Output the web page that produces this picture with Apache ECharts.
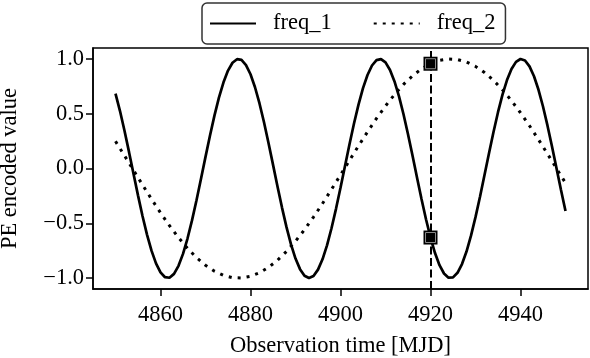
<!DOCTYPE html>
<html>
<head>
<meta charset="utf-8">
<script src="https://cdn.jsdelivr.net/npm/echarts@6/dist/echarts.min.js"></script>
<style>html,body{margin:0;padding:0;background:#fff}#c{width:590px;height:358px}</style>
</head>
<body>
<div id="c"></div>
<script>
// Observation times (MJD) for each series: start and step
const t1Start = 4850, t1Step = 1;
const t2Start = 4850, t2Step = 2;
// freq_1 values (solid line), one per MJD from 4850 to 4950
const freq1 = [
  0.6832, 0.5245, 0.3449, 0.1515, -0.0479, -0.2453, -0.4331, -0.6035, -0.7499, -0.8663,
  -0.9483, -0.9924, -0.9971, -0.9619, -0.8884, -0.7794, -0.6394, -0.4739, -0.2895, -0.0936,
  0.1061, 0.3015, 0.4850, 0.6490, 0.7872, 0.8940, 0.9653, 0.9979, 0.9909, 0.9444,
  0.8601, 0.7416, 0.5935, 0.4218, 0.2332, 0.0353, -0.1639, -0.3567, -0.5352, -0.6924,
  -0.8220, -0.9188, -0.9789, -1.0000, -0.9813, -0.9234, -0.8288, -0.7011, -0.5454, -0.3681,
  -0.1760, 0.0231, 0.2212, 0.4106, 0.5835, 0.7332, 0.8537, 0.9402, 0.9891, 0.9986,
  0.9685, 0.8995, 0.7947, 0.6583, 0.4956, 0.3132, 0.1182, -0.0814, -0.2778, -0.4632,
  -0.6301, -0.7718, -0.8828, -0.9586, -0.9962, -0.9939, -0.9522, -0.8724, -0.7580, -0.6132,
  -0.4441, -0.2572, -0.0601, 0.1394, 0.3334, 0.5141, 0.6742, 0.8075, 0.9086, 0.9735,
  0.9996, 0.9857, 0.9327, 0.8424, 0.7185, 0.5660, 0.3910, 0.2003, 0.0017, -0.1970, -0.3879
];
// freq_2 values (dotted line), every 2 MJD from 4850 to 4950
const freq2 = [
  0.2481, 0.1171, -0.0160, -0.1487, -0.2789, -0.4041, -0.5221, -0.6309, -0.7285, -0.8130,
  -0.8833, -0.9378, -0.9756, -0.9963, -0.9990, -0.9841, -0.9518, -0.9025, -0.8373, -0.7572,
  -0.6636, -0.5583, -0.4431, -0.3199, -0.1911, -0.0589, 0.0743, 0.2062, 0.3345, 0.4568,
  0.5710, 0.6751, 0.7672, 0.8456, 0.9091, 0.9564, 0.9868, 0.9996, 0.9946, 0.9721,
  0.9322, 0.8759, 0.8040, 0.7178, 0.6189, 0.5090, 0.3899, 0.2641, 0.1335, 0.0006, -0.1324
];
// highlighted observation
const markT = 4920;
const markY = [0.9564, -0.6301];
// ticks
const xTicks = [4860, 4880, 4900, 4920, 4940];
const yTicks = [-1.0, -0.5, 0.0, 0.5, 1.0];
const seriesNames = ['freq_1', 'freq_2'];

const d1 = freq1.map((v, i) => [t1Start + i * t1Step, v]);
const d2 = freq2.map((v, i) => [t2Start + i * t2Step, v]);
const dm = markY.map(v => [markT, v]);

const FONT = 'Liberation Serif';
const FS = 22.5;
const fmtY = v => (v < 0 ? '\u2212' : '') + Math.abs(v).toFixed(1);

const chart = echarts.init(document.getElementById('c'), null, {renderer: 'canvas'});
chart.setOption({
  animation: false,
  backgroundColor: '#fff',
  textStyle: {fontFamily: FONT, color: '#000'},
  grid: {left: 93, right: 2, top: 48, bottom: 69, containLabel: false, outerBoundsMode: 'none',
         show: true, borderColor: '#000', borderWidth: 1.5, backgroundColor: 'transparent'},
  legend: {
    data: seriesNames,
    left: 202, top: 3,
    padding: [9, 10, 9, 7],
    itemWidth: 46, itemHeight: 14, itemGap: 41,
    borderColor: '#333', borderWidth: 1.5, borderRadius: 5,
    itemStyle: {opacity: 0, borderWidth: 0},
    textStyle: {fontFamily: FONT, fontSize: FS, color: '#000', padding: [0, 0, 0, 12]}
  },
  xAxis: {
    type: 'value', min: 4845, max: 4955,
    name: 'Observation time [MJD]', nameLocation: 'middle', nameGap: 46,
    nameTextStyle: {fontFamily: FONT, fontSize: FS, color: '#000'},
    axisLine: {show: true, onZero: false, lineStyle: {color: '#000', width: 1.5}},
    axisTick: {show: true, length: 7, lineStyle: {color: '#000', width: 1.5}, customValues: xTicks},
    axisLabel: {fontFamily: FONT, fontSize: FS, color: '#000', margin: 15, formatter: v => String(v), customValues: xTicks},
    splitLine: {show: false}
  },
  yAxis: {
    type: 'value', min: -1.1, max: 1.1,
    name: 'PE encoded value', nameLocation: 'middle', nameGap: 71, nameRotate: 90,
    nameTextStyle: {fontFamily: FONT, fontSize: FS, color: '#000'},
    axisLine: {show: true, onZero: false, lineStyle: {color: '#000', width: 1.5}},
    axisTick: {show: true, length: 7, lineStyle: {color: '#000', width: 1.5}, customValues: yTicks},
    axisLabel: {fontFamily: FONT, fontSize: FS, color: '#000', margin: 9, formatter: fmtY, customValues: yTicks},
    splitLine: {show: false}
  },
  series: [
    {
      name: seriesNames[0], type: 'line', data: d1, showSymbol: false, symbol: 'none',
      lineStyle: {color: '#000', width: 2.7}, itemStyle: {color: '#000'}, z: 3,
      markLine: {
        silent: true, symbol: 'none', label: {show: false},
        lineStyle: {color: '#000', width: 2, type: [8, 3.5]},
        data: [{xAxis: markT}]
      }
    },
    {
      name: seriesNames[1], type: 'line', data: d2, showSymbol: false, symbol: 'none',
      lineStyle: {color: '#000', width: 3, type: [3, 6], cap: 'butt'}, itemStyle: {color: '#000'}, z: 3
    },
    {
      type: 'scatter', data: dm, symbol: 'rect', symbolSize: 14,
      itemStyle: {color: '#000', opacity: 1}, z: 5, silent: true
    },
    {
      type: 'scatter', data: dm, symbol: 'rect', symbolSize: 10,
      itemStyle: {color: '#000', borderColor: '#8a8a8a', borderWidth: 1, opacity: 1}, z: 6, silent: true
    }
  ]
});
</script>
</body>
</html>
